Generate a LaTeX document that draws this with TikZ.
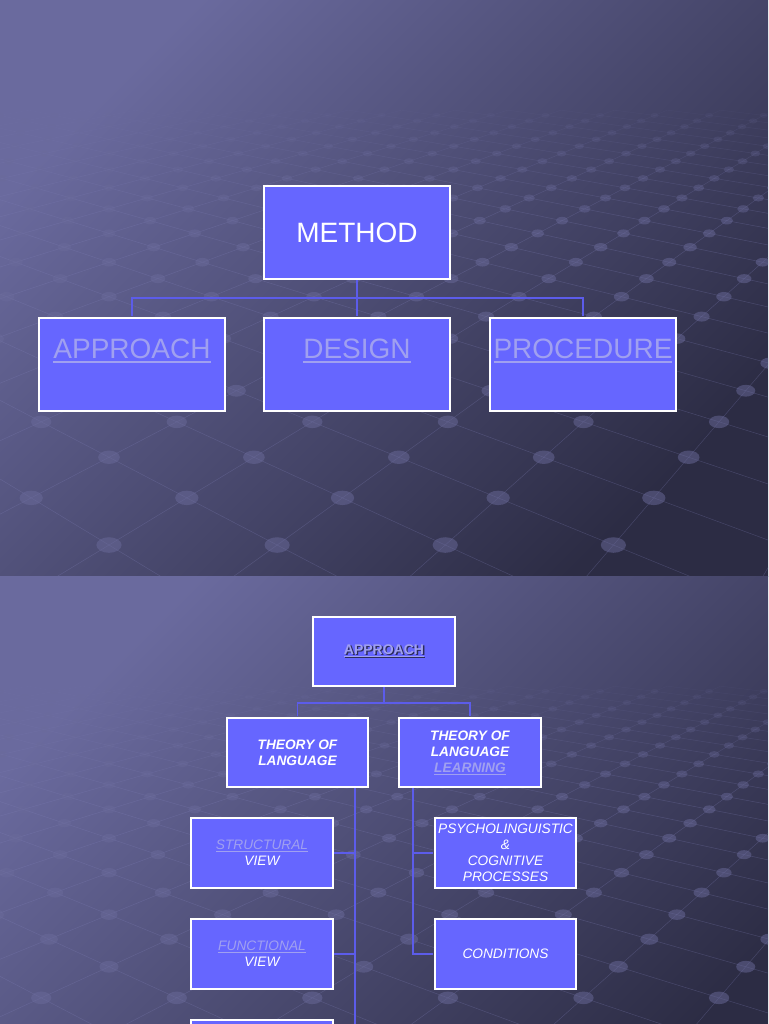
\documentclass[tikz,border=0pt]{standalone}
\usepackage{fontspec}
\setmainfont{Liberation Sans}
\usetikzlibrary{calc}
\definecolor{boxBlue}{HTML}{6666FF}
\definecolor{linkText}{HTML}{A0A0F0}
\definecolor{shadowText}{HTML}{2C2C5A}
\definecolor{lineBlue}{HTML}{5C5CEA}
\definecolor{slideLight}{HTML}{6A6A9E}
\definecolor{slideDark}{HTML}{2C2C44}
\definecolor{dotFill}{HTML}{6A6A9A}
\definecolor{gridLine}{HTML}{8080B8}

% underlined text in a given colour
\newcommand\ulc[2]{{\color{#1}\setbox0\hbox{#2}\rlap{\rule[-0.18em]{\wd0}{0.07em}}\box0}}
\newcommand\lnk[1]{\ulc{linkText}{#1}}
\newcommand\shadowed[1]{\rlap{\kern1.4pt\raisebox{-1.4pt}{\ulc{shadowText}{#1}}}\ulc{linkText}{#1}}

% floor of dots seen in perspective
\tikzset{declare function={
  gz(\a,\b)=1.349+0.108*(\a+\b);
  gx(\a,\b)=109+113.4*(\a-\b)/gz(\a,\b);
  gy(\a,\b)=-91+858/gz(\a,\b);}}

\begin{document}
\begin{tikzpicture}[x=1pt, y=-1pt,
    box/.style={draw=white, line width=1.6pt, fill=boxBlue, text=white, inner sep=0pt, align=center},
    bigbox/.style={box, minimum width=185.5pt, minimum height=93.5pt, font=\fontsize{28}{32}\selectfont},
    smallbox/.style={box, minimum width=141.5pt, minimum height=69.5pt, font=\fontsize{13.7}{16}\selectfont\itshape},
    boldbox/.style={smallbox, font=\fontsize{13.7}{16}\selectfont\bfseries\itshape},
    link/.style={draw=lineBlue, line width=1.4pt, shorten >=0.8pt},
    linkB/.style={draw=lineBlue, line width=1.8pt, shorten >=0.8pt},
    gridline/.style={draw=gridLine, line width=0.5pt}]
  \useasboundingbox (0,0) rectangle (768,1024);
  \clip (0,0) rectangle (768,1024);

  % ---------- slide backgrounds ----------
  \foreach \sy in {0,576} {
    \begin{scope}[shift={(0,\sy)}]
      \shade[top color=slideLight, bottom color=slideDark, shading angle=45] (0,0) rectangle (768,576);
      \begin{scope}
        \clip (0,0) rectangle (768,576);
        \foreach \i in {-3,...,26} {
          \foreach \j in {-13,...,16} {
            \pgfmathtruncatemacro\ssum{\i+\j}
            \ifnum\ssum>-2 \ifnum\ssum<27
              \pgfmathsetmacro\zd{gz(\i,\j)}
              \pgfmathsetmacro\lop{0.3*min(1,max(0,(4.6-\zd)/2))}
              \pgfmathsetmacro\dop{0.5*min(1,max(0,(4.6-\zd)/2))}
              \draw[gridline, opacity=\lop] ({gx(\i,\j)},{gy(\i,\j)}) -- ({gx(\i+1,\j)},{gy(\i+1,\j)});
              \draw[gridline, opacity=\lop] ({gx(\i,\j)},{gy(\i,\j)}) -- ({gx(\i,\j+1)},{gy(\i,\j+1)});
              \fill[dotFill, opacity=\dop] ({gx(\i,\j)},{gy(\i,\j)}) ellipse [x radius={17/\zd}, y radius={10.5/\zd}];
            \fi\fi
          }
        }
      \end{scope}
    \end{scope}
  }

  % ---------- first slide ----------
  \node[bigbox] (method) at (357,232.5) {METHOD};
  \node[bigbox] (approach) at (132,364.5) {\lnk{APPROACH}\\\mbox{}};
  \node[bigbox] (design) at (357,364.5) {\lnk{DESIGN}\\\mbox{}};
  \node[bigbox] (procedure) at (583,364.5) {\lnk{PROCEDURE}\\\mbox{}};

  \draw[link, shorten >=0pt] (method.south) -- ++(0,18) coordinate (mjoint);
  \draw[link] (mjoint) -| (approach.north);
  \draw[link] (mjoint) -- (design.north);
  \draw[link] (mjoint) -| (procedure.north);

  % ---------- second slide ----------
  \node[smallbox, font=\fontsize{14}{16}\selectfont\bfseries] (approachB) at (384,651.5) {\shadowed{APPROACH}};
  \node[boldbox] (langtheory) at (297.5,752.5) {THEORY OF\\LANGUAGE};
  \node[boldbox] (learntheory) at (470,752.5) {THEORY OF\\LANGUAGE\\\lnk{LEARNING}};
  \node[smallbox] (structural) at (262,853) {\lnk{STRUCTURAL}\\VIEW};
  \node[smallbox] (functional) at (262,954) {\lnk{FUNCTIONAL}\\VIEW};
  \node[smallbox] (viewthree) at (262,1055) {};
  \node[smallbox] (psycho) at (505.5,853) {PSYCHOLINGUISTIC\\\&\\COGNITIVE\\PROCESSES};
  \node[smallbox] (conditions) at (505.5,954) {CONDITIONS};

  \draw[linkB, shorten >=0pt] (approachB.south) -- ++(0,16) coordinate (ajoint);
  \draw[linkB] (ajoint) -| (langtheory.north);
  \draw[linkB] (ajoint) -| (learntheory.north);
  \coordinate (lspine) at ($(langtheory.south)+(57.5,0)$);
  \coordinate (rspine) at ($(learntheory.south)+(-57,0)$);
  \draw[linkB] (lspine) |- (structural.east);
  \draw[linkB] (lspine) |- (functional.east);
  \draw[linkB] (lspine) |- (viewthree.east);
  \draw[linkB] (rspine) |- (psycho.west);
  \draw[linkB] (rspine) |- (conditions.west);
\end{tikzpicture}
\end{document}
